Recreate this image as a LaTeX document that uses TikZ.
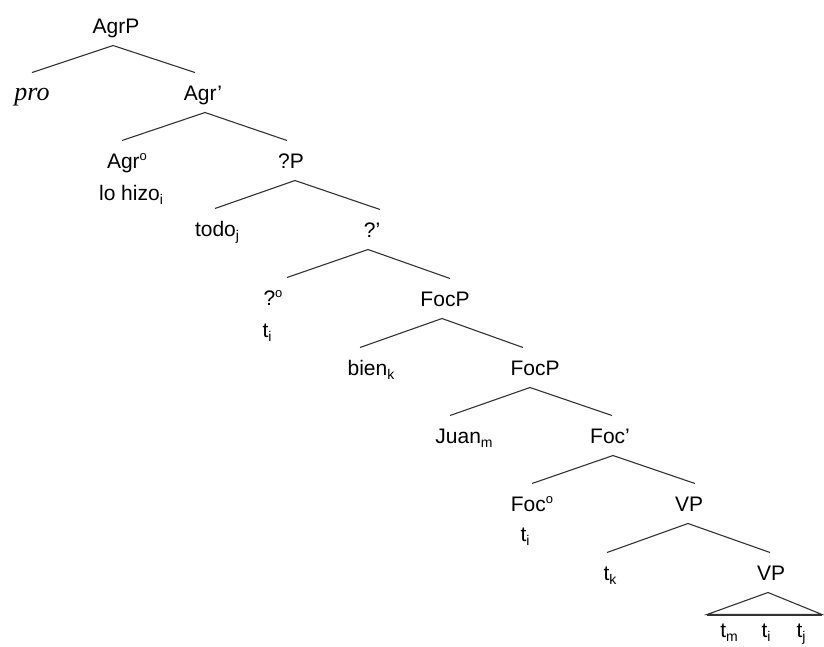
\documentclass[tikz,border=0pt]{standalone}
\usepackage{fontspec}
\setmainfont{Liberation Sans}
\newfontfamily\tmsfont{Liberation Serif}
\newcommand\fsz{\fontsize{21}{25}\selectfont}
\newcommand\sbs[1]{\raisebox{-0.4ex}{\fontsize{14}{14}\selectfont #1}}
\newcommand\sps{\raisebox{8pt}{\fontsize{13}{13}\selectfont o}}
\begin{document}
\begin{tikzpicture}[x=1pt,y=-1pt,
  tn/.style={font=\fsz, inner sep=0pt, outer xsep=0pt, outer ysep=12.5pt,
             anchor=base, text height=15pt, text depth=0pt},
  br/.style={draw=black!80, line width=1.1pt}]
\useasboundingbox (0,0) rectangle (824,646);
\fill[white] (0,0) rectangle (824,646);
% nodes
\node[tn] (agrp) at (116,33) {AgrP};
\node[tn, font=\fontsize{26}{30}\selectfont\tmsfont\itshape] (pro) at (32,100) {pro};
\node[tn] (agrb) at (203,100) {Agr’};
\node[tn] (agr0) at (127,168) {Agr\sps};
\node[tn] (lohizo) at (131,200) {lo hizo\sbs{i}};
\node[tn] (qp) at (291,168) {?P};
\node[tn] (todo) at (217,236) {todo\sbs{j}};
\node[tn] (qb) at (372,237) {?’};
\node[tn] (q0) at (273,305) {?\sps};
\node[tn] (qt) at (267,337) {t\sbs{i}};
\node[tn] (focp) at (445,306) {FocP};
\node[tn] (bien) at (371,375) {bien\sbs{k}};
\node[tn] (focp2) at (535,375) {FocP};
\node[tn] (juan) at (464,443) {Juan\sbs{m}};
\node[tn] (focb) at (610,443) {Foc’};
\node[tn] (foc0) at (532,511) {Foc\sps};
\node[tn] (foct) at (525,541) {t\sbs{i}};
\node[tn] (vp) at (689,511) {VP};
\node[tn] (tk) at (610,580) {t\sbs{k}};
\node[tn] (vp2) at (771,580) {VP};
\node[tn] (tm) at (729,637) {t\sbs{m}};
\node[tn] (ti) at (766,637) {t\sbs{i}};
\node[tn] (tj) at (801,637) {t\sbs{j}};
% branches
\draw[br] ([xshift=-3pt]agrp.south) -- (pro.north);
\draw[br] ([xshift=-3pt]agrp.south) -- ([xshift=-8pt]agrb.north);
\draw[br] ([xshift=2pt]agrb.south) -- ([xshift=-5pt]agr0.north);
\draw[br] ([xshift=2pt]agrb.south) -- ([xshift=-4pt]qp.north);
\draw[br] ([xshift=4pt]qp.south) -- ([xshift=-2pt]todo.north);
\draw[br] ([xshift=4pt]qp.south) -- ([xshift=8pt]qb.north);
\draw[br] ([xshift=-4pt]qb.south) -- ([xshift=14pt]q0.north);
\draw[br] ([xshift=-4pt]qb.south) -- ([xshift=5pt]focp.north);
\draw[br] ([xshift=-3pt]focp.south) -- ([xshift=-11pt]bien.north);
\draw[br] ([xshift=-3pt]focp.south) -- ([xshift=-12pt]focp2.north);
\draw[br] ([xshift=-5pt]focp2.south) -- ([xshift=-14pt]juan.north);
\draw[br] ([xshift=-5pt]focp2.south) -- ([xshift=2pt]focb.north);
\draw[br] ([xshift=3pt]focb.south) -- (foc0.north);
\draw[br] ([xshift=3pt]focb.south) -- ([xshift=6pt]vp.north);
\draw[br] ([xshift=-1pt]vp.south) -- ([xshift=-3pt]tk.north);
\draw[br] ([xshift=-1pt]vp.south) -- ([xshift=-1pt]vp2.north);
% triangle
\draw[br, line join=miter] ([xshift=-3pt]vp2.south) -- ++(-61,22) -- ++(115,0) -- cycle;
\draw[draw=black!80, line width=2pt] ([xshift=-64pt,yshift=-22pt]vp2.south) -- ++(115,0);
\end{tikzpicture}
\end{document}
